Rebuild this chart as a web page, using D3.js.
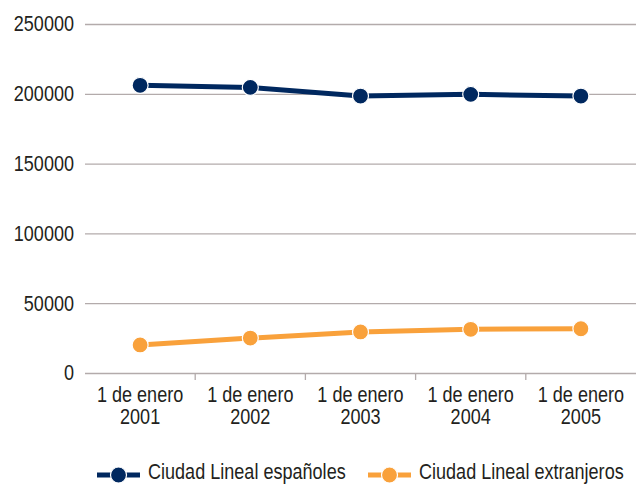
<!DOCTYPE html>
<html>
<head>
<meta charset="utf-8">
<script src="https://cdn.jsdelivr.net/npm/d3@7"></script>
<style>
	body { margin: 0; background: #fff; }
	text { font-family: "Liberation Sans", Arial, sans-serif; fill: #231f20; }
</style>
</head>
<body>
<svg id="chart" width="637" height="484"></svg>
<script>
// chart data
let years = ["2001", "2002", "2003", "2004", "2005"];
let yTicks = [0, 50000, 100000, 150000, 200000, 250000];
let espanoles = [206100, 204600, 198400, 199600, 198400];
let extranjeros = [20100, 25000, 29400, 31300, 31700];
let seriesNames = ["Ciudad Lineal españoles", "Ciudad Lineal extranjeros"];
let seriesColors = ["#00285f", "#f9a13b"];

let width = 637;
let height = 484;
let margin = {top: 24, right: 1, bottom: 111, left: 85};
let fontSize = "21.5px";
// no condensed font installed, so squeeze the text horizontally
let squeeze = 0.84;

let svg = d3.select("#chart");

function condense(sel, ax) {
	sel.attr("transform", "translate(" + ax + ",0) scale(" + squeeze + ",1) translate(" + (-ax) + ",0)");
}

let x = d3.scaleBand()
	.domain(years)
	.range([margin.left, width - margin.right]);

let y = d3.scaleLinear()
	.domain([0, 250000])
	.range([height - margin.bottom, margin.top]);

// gridlines and y labels
let yAxis = d3.axisLeft(y)
	.tickValues(yTicks)
	.tickSize(-(width - margin.left - margin.right))
	.tickPadding(11)
	.tickFormat(d3.format("d"));

let gy = svg.append("g")
	.attr("transform", "translate(" + margin.left + ",0)")
	.call(yAxis);
gy.select(".domain").remove();
gy.selectAll(".tick line")
	.attr("stroke", "#b3abab")
	.attr("stroke-width", 1.3);
gy.selectAll(".tick text")
	.attr("font-size", fontSize)
	.attr("font-family", null)
	.attr("fill", "#231f20")
	.call(condense, -11);

// x axis with tick marks between categories
let x0 = height - margin.bottom;
let bounds = years.slice(1).map(function(d) { return x(d); });
svg.selectAll(".xtick")
	.data(bounds)
	.enter()
	.append("line")
	.attr("class", "xtick")
	.attr("x1", function(d) { return d; })
	.attr("x2", function(d) { return d; })
	.attr("y1", x0)
	.attr("y2", x0 + 7)
	.attr("stroke", "#b3abab")
	.attr("stroke-width", 1.3);

let xLabels = svg.selectAll(".xlabel")
	.data(years)
	.enter()
	.append("text")
	.attr("class", "xlabel")
	.attr("text-anchor", "middle")
	.attr("font-size", fontSize)
	.each(function(d) {
		d3.select(this).call(condense, x(d) + x.bandwidth() / 2);
	});
xLabels.append("tspan")
	.attr("x", function(d) { return x(d) + x.bandwidth() / 2; })
	.attr("y", 402)
	.text("1 de enero");
xLabels.append("tspan")
	.attr("x", function(d) { return x(d) + x.bandwidth() / 2; })
	.attr("y", 424)
	.text(function(d) { return d; });

// lines and markers
function drawSeries(values, color) {
	let line = d3.line()
		.x(function(d, i) { return x(years[i]) + x.bandwidth() / 2; })
		.y(function(d) { return y(d); });

	svg.append("path")
		.datum(values)
		.attr("fill", "none")
		.attr("stroke", color)
		.attr("stroke-width", 5)
		.attr("d", line);

	svg.append("g")
		.selectAll("circle")
		.data(values)
		.enter()
		.append("circle")
		.attr("cx", function(d, i) { return x(years[i]) + x.bandwidth() / 2; })
		.attr("cy", function(d) { return y(d); })
		.attr("r", 8)
		.attr("fill", color)
		.attr("stroke", "#fff")
		.attr("stroke-width", 1.2);
}

drawSeries(espanoles, seriesColors[0]);
drawSeries(extranjeros, seriesColors[1]);

// legend
let legendX = [97, 368];
let legendY = 475;
let legend = svg.selectAll(".legend")
	.data(seriesNames)
	.enter()
	.append("g")
	.attr("class", "legend")
	.attr("transform", function(d, i) { return "translate(" + legendX[i] + "," + legendY + ")"; });
legend.append("line")
	.attr("x1", 0)
	.attr("x2", 43)
	.attr("stroke", function(d, i) { return seriesColors[i]; })
	.attr("stroke-width", 5);
legend.append("circle")
	.attr("cx", 21.5)
	.attr("r", 8)
	.attr("fill", function(d, i) { return seriesColors[i]; })
	.attr("stroke", "#fff")
	.attr("stroke-width", 1.2);
legend.append("text")
	.attr("x", 51)
	.attr("y", 4)
	.attr("font-size", fontSize)
	.call(condense, 51)
	.text(function(d) { return d; });
</script>
</body>
</html>
